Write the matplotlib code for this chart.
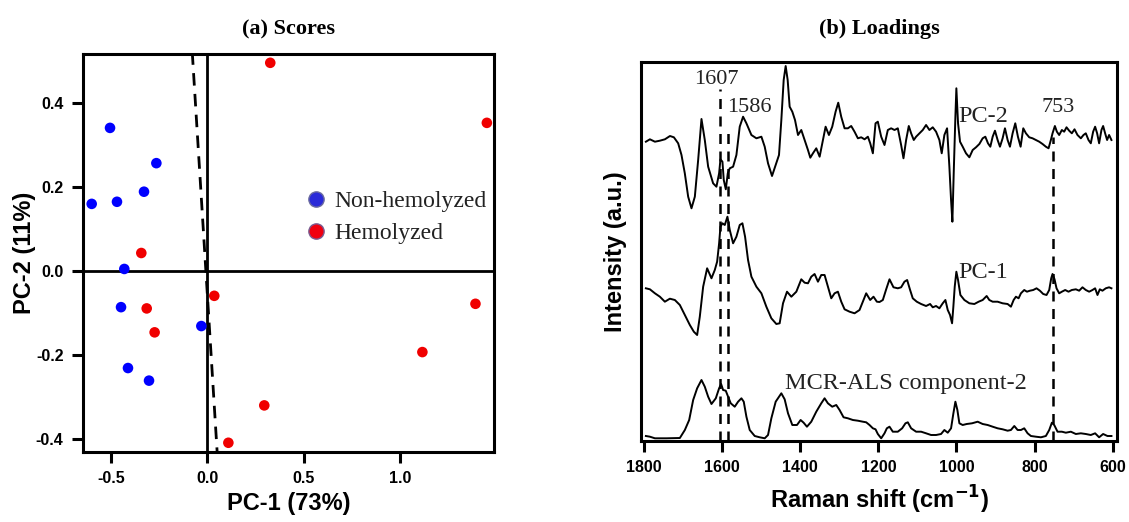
import matplotlib
matplotlib.use("Agg")
import matplotlib.pyplot as plt
from matplotlib.lines import Line2D

# ---------------- (a) Scores data ----------------
non_hemo_pc1 = [-0.504, -0.264, -0.599, -0.468, -0.328, -0.430, -0.447, -0.031, -0.411, -0.302]
non_hemo_pc2 = [0.340, 0.256, 0.159, 0.164, 0.188, 0.004, -0.087, -0.132, -0.232, -0.262]
hemo_pc1 = [0.326, 1.448, -0.342, 0.036, -0.314, -0.273, 1.389, 1.114, 0.295, 0.109]
hemo_pc2 = [0.495, 0.352, 0.042, -0.060, -0.090, -0.147, -0.079, -0.194, -0.321, -0.410]
boundary_pc1 = [-0.078, 0.052]
boundary_pc2 = [0.52, -0.44]
score_xticks = [-0.5, 0.0, 0.5, 1.0]
score_yticks = [-0.4, -0.2, 0.0, 0.2, 0.4]

# ---------------- (b) Loadings data ----------------
pc2_shift = [1795.7, 1785.4, 1772.6, 1760, 1747, 1734, 1724, 1713, 1704.5, 1696, 1687.4, 1678.9,
             1670.3, 1661.8, 1653.3, 1644.8, 1636.2, 1623.5, 1615, 1608.1, 1604.7, 1599.6, 1596.2,
             1591, 1585.9, 1580.8, 1572.3, 1563.8, 1555.3, 1546.7, 1538.2, 1525.4, 1512.6, 1499.8,
             1491.3, 1482.8, 1472.6, 1463.2, 1454.7, 1448.7, 1442.7, 1437.6, 1432.5, 1427.4, 1420.6,
             1413.7, 1406, 1397.6, 1389, 1380.5, 1374.5, 1367.7, 1359.2, 1350.6, 1342.1, 1335.3,
             1326.8, 1318.3, 1309.7, 1302.9, 1295.3, 1286.7, 1278.2, 1269.7, 1261.2, 1252.6, 1244.1,
             1235.5, 1227, 1221, 1214.2, 1207.4, 1201.5, 1192.9, 1184.4, 1175.9, 1167.4, 1158.8,
             1150.3, 1141.8, 1135.8, 1129, 1122.2, 1116.2, 1109.4, 1103.4, 1094.9, 1086.4, 1077.9,
             1069.3, 1060.8, 1052.3, 1043.8, 1037.8, 1031, 1024.1, 1018.2, 1013.9, 1010.5, 1007.1,
             1002.8, 1000.3, 996, 990.9, 984.1, 975.6, 967, 958.5, 950, 941.4, 932.9, 926.1, 919.3,
             913.3, 907.3, 901.4, 894.6, 888.6, 881.8, 875.8, 869, 863, 856.2, 849.4, 842.6, 835.7,
             828.9, 822.1, 813.6, 805.1, 796.5, 788, 779.5, 771, 764.1, 758.2, 753.9, 747.9, 742.8,
             736.9, 730, 724.1, 718.1, 711.3, 704.5, 697.6, 690, 681.4, 674.6, 668.7, 661.8, 655.9,
             649.9, 644.8, 639.7, 634.6, 628.6, 624.3, 619.2, 614.1, 609, 603]
pc2_int = [299.3, 301.7, 299.3, 300.3, 301.7, 305, 303.7, 297.7, 286, 267.7, 244.3, 232.7,
           244.3, 281, 322, 301, 274.3, 257.7, 254.3, 267.7, 281.7, 279.3, 261,
           251.7, 267.7, 272.7, 274.3, 286, 314.3, 324.3, 317.7, 306, 302.7, 304.3,
           294.3, 277.7, 265, 276, 286, 321, 361, 375, 361, 334.3, 329.3,
           321, 306, 311, 301, 291, 283.3, 287.7, 292.7, 284.3, 301, 314.3,
           306, 314.3, 329.3, 338.3, 324.3, 312.7, 312.7, 315, 309.3, 302.7, 303.7,
           301.7, 304.3, 297.7, 287.7, 317.7, 319.3, 304.3, 296, 311, 312.7, 311,
           312.7, 296, 282.7, 301, 315, 307.7, 301, 304.3, 307.7, 311, 316,
           311, 313.7, 309.3, 301, 287.7, 306, 312.7, 274.3, 241, 219.3, 267.7,
           324.3, 352.7, 317.7, 299.3, 294.3, 287.7, 283.7, 291, 293.7, 297, 302.7, 304.3, 297.7,
           294.3, 304.3, 310.3, 301, 294.3, 302.7, 312.7, 301, 294.3, 307.7, 317.7, 304.3, 294.3,
           312.7, 307.7, 303.7, 302.7, 301, 299.3, 297, 294.3, 292.7, 301, 307.7, 315, 309.3,
           306, 311, 309.3, 313.7, 310.3, 307.7, 311.7, 306, 302.7, 306, 307.7, 301, 297.7,
           309.3, 314.3, 307.7, 297.7, 311, 315, 307.7, 301, 306, 301]

pc1_shift = [1795.7, 1785.4, 1772.6, 1759.9, 1747.1, 1734.3, 1721.5, 1708.7, 1695.9, 1683.1, 1672.9,
             1664.4, 1657.6, 1649, 1638.8, 1627.7, 1619.2, 1613.2, 1608.1, 1604.7, 1599.6, 1593.6,
             1586.8, 1580.8, 1572.3, 1563.8, 1555.3, 1548.4, 1541.6, 1534, 1525.4, 1512.6, 1499.8,
             1487.1, 1474.3, 1461.5, 1453, 1444.4, 1434.2, 1423.1, 1410.3, 1397.6, 1389, 1380.5,
             1372, 1363.5, 1354.9, 1346.4, 1337.9, 1329.4, 1320.8, 1312.3, 1303.8, 1295.2, 1286.7,
             1273.9, 1261.1, 1248.4, 1239.8, 1231.3, 1221.1, 1212.6, 1204, 1197.2, 1188.7, 1180.1,
             1171.6, 1161.4, 1150.3, 1141.8, 1133.3, 1126.4, 1118.8, 1112, 1101.7, 1090.6, 1077.9,
             1067.6, 1060.8, 1052.3, 1043.8, 1035.2, 1028.4, 1022.4, 1016.5, 1011.3, 1008, 1004.5,
             1000.3, 996, 990, 979.8, 967, 954.2, 943.2, 932.9, 922.7, 915.9, 907.3, 894.6, 881.8,
             869, 860.5, 853.6, 847.7, 840.9, 834.9, 826.4, 819.5, 811.9, 803.4, 794.9, 786.3,
             777.8, 769.3, 762.4, 757.3, 753.9, 748.8, 743.7, 736.9, 730, 721.5, 713, 704.5, 694.2,
             685.7, 677.2, 668.7, 660.1, 651.6, 644.8, 638.8, 632.8, 626, 617.5, 609, 603]
pc1_int = [152.7, 151.7, 147.7, 144.3, 139.3, 142.3, 141, 136, 126, 116, 109.3,
           106, 124.3, 154.3, 172.7, 162.7, 171, 179.3, 197.7, 214.3, 217.7, 216,
           224.3, 211, 197.7, 204.3, 216, 217.7, 204.3, 181, 164.3, 154.3, 147.7,
           134.3, 122.7, 117, 117.7, 137.7, 149.3, 144.3, 149.3, 161.7, 158.3, 157.7,
           164.3, 167, 159.3, 166, 166, 154.3, 142.7, 147.7, 149.3, 139.3, 131.7,
           129.3, 127.7, 131, 139.3, 147.7, 141, 144.3, 139.3, 139, 141, 151.7,
           161.7, 153.7, 152.7, 153.7, 159.3, 161, 151, 142.7, 139.3, 137, 135,
           137, 133.7, 135, 132.7, 137.7, 141, 131, 126, 117.7, 134.3, 154.3,
           169.3, 161, 146, 141, 137.7, 137, 139.3, 141, 145, 141, 139.3, 139.3, 137.7,
           137, 134.3, 141, 144.3, 142.7, 147.7, 151, 149.3, 150.3, 151, 152.7, 150.3,
           147, 146, 151, 162.7, 167, 161.7, 152.7, 147.7, 149.3, 151, 149.3, 151, 151.7,
           150.3, 153.7, 151, 149.3, 151, 152.7, 146, 151.7, 150.3, 152.7, 153.7, 152.7]

mcr_shift = [1795.7, 1785.4, 1772.6, 1742.8, 1708.7, 1695.9, 1684.8, 1674.6, 1664.4, 1653.3, 1644.8,
             1636.2, 1627.7, 1616.6, 1608.1, 1603, 1597.9, 1591.1, 1585.1, 1578.3, 1568.1, 1559.5,
             1551, 1545, 1538.2, 1529.7, 1516.9, 1504.1, 1491.3, 1482.8, 1474.3, 1463.2, 1448.7,
             1440.2, 1431.6, 1420.6, 1408.6, 1399.3, 1391.6, 1383.1, 1372, 1359.2, 1346.4, 1337.9,
             1329.4, 1318.3, 1308, 1299.5, 1289.3, 1278.2, 1265.4, 1252.6, 1239.8, 1231.3, 1222.8,
             1214.2, 1207.4, 1201.5, 1192.9, 1184.4, 1178.4, 1171.6, 1163.1, 1150.3, 1139.2, 1130.7,
             1124.7, 1116.2, 1103.4, 1090.6, 1077.9, 1065.1, 1052.3, 1039.5, 1031, 1022.4, 1013.9,
             1007.9, 1002.8, 997.7, 992.6, 984.1, 973.8, 960.2, 945.7, 932.9, 920.1, 907.3, 894.6,
             881.8, 869, 860.5, 851.9, 843.4, 834.9, 826.4, 817.8, 809.3, 796.5, 783.7, 771, 762.4,
             755.6, 749.6, 741.1, 730, 719.8, 707, 694.2, 681.4, 668.7, 655.9, 644.8, 634.6, 624.3,
             613.2, 603]
mcr_int = [5, 4.3, 2.7, 2.7, 3, 11, 21, 41, 52.7, 61, 54.3,
           44.3, 37, 42.7, 52.7, 57, 51, 50.3, 44.3, 37.7, 34.3, 39.3,
           42.7, 39.3, 24.3, 11, 5, 3.7, 2.7, 6, 22.7, 39.3, 47.7,
           41.7, 27.7, 16, 16, 21, 18.3, 14.3, 19.3, 29.3, 37.7, 42.7,
           37.7, 34.3, 36, 31, 23.7, 22.7, 21, 20.3, 19.3, 18.7, 16,
           12.7, 11.7, 7, 2.7, 7.7, 12.7, 14.3, 9.3, 9.3, 12.7, 17.7,
           18.7, 12.7, 9.3, 9.3, 7.7, 6, 6, 7, 11, 8.3, 12.7,
           27.7, 39.3, 31, 17.7, 16, 17, 17.7, 19.3, 17, 16, 14.3, 12.7,
           11.7, 10.3, 11, 15, 11, 11, 12.7, 7.7, 5, 4.3, 3.7, 5, 11,
           18.3, 16, 9.3, 9.3, 8.3, 9.3, 7, 7.7, 7, 6, 7.7, 3.7, 7,
           5, 5]

marker_shifts = [1607, 1586, 753]
marker_tops = [352, 314, 304]
shift_ticks = [1800, 1600, 1400, 1200, 1000, 800, 600]

serif = ["Liberation Serif", "DejaVu Serif"]
sans = ["Liberation Sans", "DejaVu Sans"]
plt.rcParams["font.family"] = sans

fig = plt.figure(figsize=(11.29, 5.22), dpi=100)
W, H = 1129, 522
axa = fig.add_axes([83 / W, 1 - 452 / H, (494 - 83) / W, (452 - 54) / H])
axb = fig.add_axes([640.7 / W, 1 - 441 / H, (1117.3 - 640.7) / W, (441 - 61.7) / H])

# ---- panel a ----
axa.axhline(0, color="black", lw=2, zorder=1)
axa.axvline(0, color="black", lw=2, zorder=1)
axa.plot(boundary_pc1, boundary_pc2, color="black", lw=2, ls=(0, (4.5, 3)), zorder=2)
axa.scatter(non_hemo_pc1, non_hemo_pc2, s=58, color="#0000ff", edgecolors="none", zorder=3)
axa.scatter(hemo_pc1, hemo_pc2, s=58, color="#f00000", edgecolors="none", zorder=3)
axa.set_xlim(-0.644, 1.485)
axa.set_ylim(-0.432, 0.516)
axa.set_xticks(score_xticks)
axa.set_xticklabels([f"{v:.1f}" for v in score_xticks])
axa.set_yticks(score_yticks)
axa.set_yticklabels([f"{v:.1f}" for v in score_yticks])
for lab in axa.get_xticklabels() + axa.get_yticklabels():
    lab.set_fontweight("bold")
    lab.set_fontsize(11.5)
axa.tick_params(direction="out", length=8, width=2.2, pad=6)
for sp in axa.spines.values():
    sp.set_linewidth(2.2)
axa.set_xlabel("PC-1 (73%)", fontsize=17, fontweight="bold", labelpad=4)
axa.set_ylabel("PC-2 (11%)", fontsize=17, fontweight="bold", labelpad=0)
axa.set_title("(a) Scores", fontsize=16, fontweight="bold", family=serif, pad=14)

handles = [
    Line2D([], [], marker="o", ls="none", markersize=11, markerfacecolor="#2a2ad8",
           markeredgecolor="#6a6aa0", markeredgewidth=1),
    Line2D([], [], marker="o", ls="none", markersize=11, markerfacecolor="#f00010",
           markeredgecolor="#7a5a90", markeredgewidth=1),
]
leg = axa.legend(handles, ["Non-hemolyzed", "Hemolyzed"], loc="center left",
                 bbox_to_anchor=(0.515, 0.59), frameon=False,
                 prop={"family": serif, "size": 17}, handletextpad=0.3,
                 labelspacing=0.45, handlelength=1.0, borderaxespad=0)
for t in leg.get_texts():
    t.set_color("#222222")

# ---- panel b ----
axb.plot(pc2_shift, pc2_int, color="black", lw=1.4)
axb.plot(pc1_shift, pc1_int, color="black", lw=1.4)
axb.plot(mcr_shift, mcr_int, color="black", lw=1.4)
for xs, top in zip(marker_shifts, marker_tops):
    axb.plot([xs, xs], [0, top], color="black", lw=1.8, ls=(0, (4, 3)))
axb.set_xlim(1809, 588)
axb.set_ylim(0, 379.3)
axb.set_xticks(shift_ticks)
axb.set_xticklabels([str(v) for v in shift_ticks])
for lab in axb.get_xticklabels():
    lab.set_fontweight("bold")
    lab.set_fontsize(11.5)
axb.set_yticks([])
axb.tick_params(direction="out", length=8, width=2.2, pad=6)
for sp in axb.spines.values():
    sp.set_linewidth(2.2)
axb.set_xlabel("Raman shift (cm$^{\\mathbf{-1}}$)", fontsize=17, fontweight="bold", labelpad=6)
axb.set_ylabel("Intensity (a.u.)", fontsize=17, fontweight="bold", labelpad=10)
axb.set_title("(b) Loadings", fontsize=16, fontweight="bold", family=serif, pad=20)

num = dict(family=serif, fontsize=16, color="#222222")
lbl = dict(family=serif, fontsize=17.5, color="#222222")
axb.text(1616, 361, "1607", ha="center", va="center", **num)
axb.text(1530, 333, "1586", ha="center", va="center", **num)
axb.text(996, 325, "PC-2", ha="left", va="center", **lbl)
axb.text(740, 333, "753", ha="center", va="center", **num)
axb.text(996, 168, "PC-1", ha="left", va="center", **lbl)
axb.text(1440, 58, "MCR-ALS component-2", ha="left", va="center", **lbl)

fig.savefig("out.png", dpi=100)
